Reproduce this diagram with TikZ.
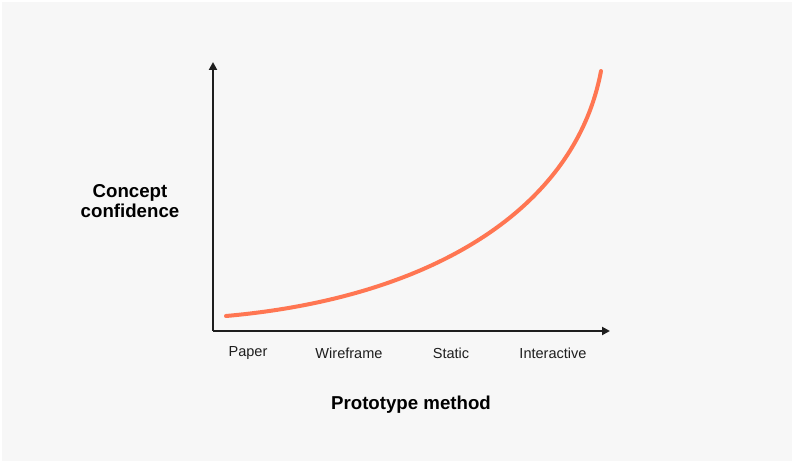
\documentclass[tikz,border=0pt]{standalone}
\usepackage{fontspec}
\setmainfont{Liberation Sans}
\usetikzlibrary{arrows.meta,positioning}
\definecolor{paperbg}{HTML}{F7F7F7}
\definecolor{curveorange}{HTML}{FF7652}
\definecolor{axisgray}{HTML}{1E1E1E}

\begin{document}
\begin{tikzpicture}[x=0.75pt, y=-0.75pt,
        axis/.style={-{Triangle[length=6pt, width=6pt]}, line width=1.5pt, color=axisgray},
        tick/.style={font=\fontsize{10.9}{12}\selectfont, text=axisgray},
        title/.style={font=\fontsize{14}{15}\selectfont\bfseries, text=black, align=center}]
            \fill[white] (0, 0) rectangle (794, 463);
            \fill[paperbg] (2, 2) rectangle (792, 461);
            \useasboundingbox (0, 0) rectangle (794, 463);

            \coordinate (origin) at (213, 331);
            \coordinate (ytip)   at (213,  62);
            \coordinate (xtip)   at (610, 331);
            \coordinate (low)    at (226, 316);
            \coordinate (high)   at (601,  71);

            \node[title] (confidence) at (130, 201) {Concept\\confidence};

            \node[tick] (paper)       at (248, 353) {Paper};
            \node[tick] (wireframe)   at (349, 353) {Wireframe};
            \node[tick] (static)      at (451, 353) {Static};
            \node[tick] (interactive) at (553, 353) {Interactive};

            \node[title] (method) at (411, 405) {Prototype method};

            \draw[axis] (origin) -- (ytip);
            \draw[axis] (origin) -- (xtip);

            \draw[curveorange, line width=3pt, line cap=round]
                (low) .. controls (430, 298) and (575, 210) .. (high);
        \end{tikzpicture}
\end{document}
